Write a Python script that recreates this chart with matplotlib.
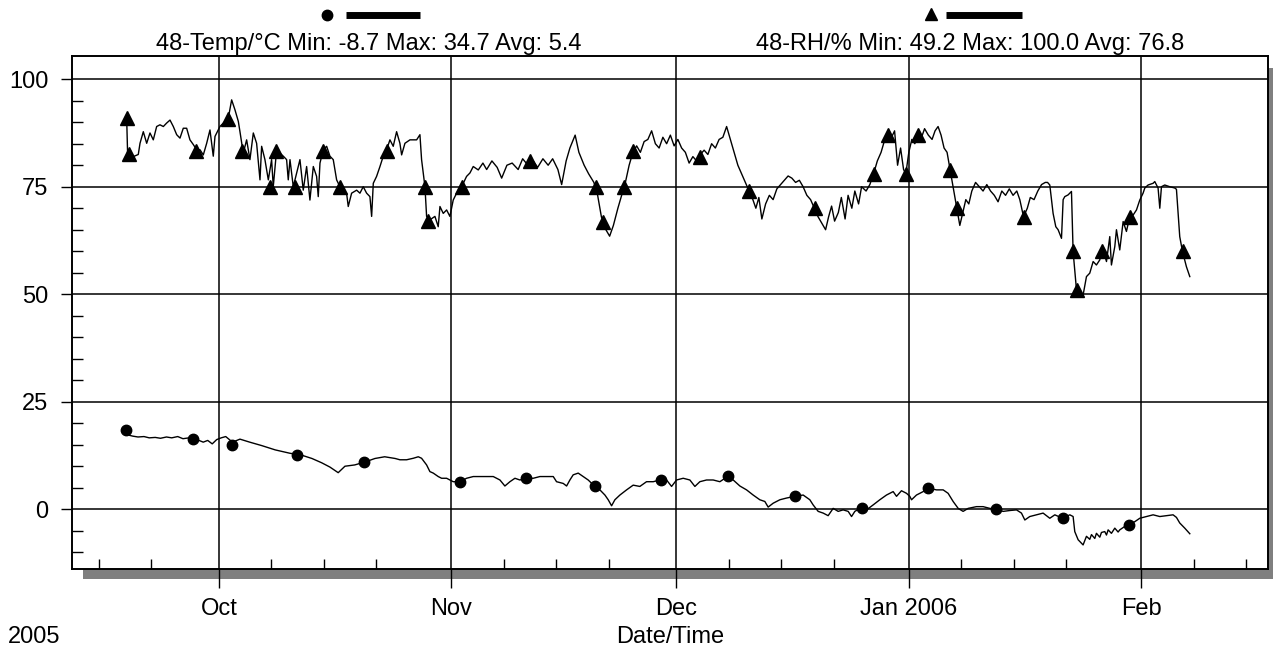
import matplotlib
matplotlib.use('Agg')
import matplotlib.pyplot as plt
import matplotlib.dates as mdates
from matplotlib.patches import Rectangle
from matplotlib.lines import Line2D
import numpy as np
import pandas as pd

plt.rcParams['font.family'] = ['Liberation Sans', 'DejaVu Sans']

# ---------------- data (days after 2005-10-01) ----------------
base_date = '2005-10-01'

rh_day = [-12.31, -12.18, -11.42, -10.76, -10.53, -10.09, -9.64, -9.20, -8.76, -8.31,
          -7.87, -7.42, -6.98, -6.53, -6.09, -5.64, -5.20, -4.76, -4.31, -3.87,
          -3.42, -2.98, -2.53, -2.09, -1.64, -1.20, -0.76, -0.53, -0.09, 0.13,
          0.58, 1.24, 1.69, 2.13, 2.58, 2.80, 3.24, 3.69, 4.13, 4.58,
          5.02, 5.47, 5.69, 6.13, 6.58, 7.02, 7.24, 7.69, 8.13, 8.58,
          9.02, 9.24, 9.47, 9.91, 10.80, 11.24, 11.69, 12.13, 12.58, 13.02,
          13.24, 13.47, 13.91, 14.36, 14.80, 15.24, 15.69, 16.13, 16.58, 17.02,
          17.24, 17.69, 18.36, 18.80, 19.24, 19.69, 20.13, 20.36, 20.58, 21.02,
          21.47, 21.91, 22.36, 22.80, 23.24, 23.69, 24.13, 24.36, 24.80, 25.47,
          25.91, 26.36, 26.80, 27.02, 27.47, 27.69, 28.13, 28.80, 29.24, 29.47,
          29.91, 30.36, 30.80, 31.24, 31.69, 32.36, 33.02, 33.47, 33.91, 34.58,
          35.2, 35.7, 36.4, 37.1, 37.7, 38.4, 39.1, 39.9, 40.5, 41.2,
          41.9, 42.5, 43.2, 43.9, 44.5, 45.2, 45.7, 46.3, 46.8, 47.5,
          48.0, 48.7, 49.3, 50.0, 50.5, 51.0, 51.6, 52.1, 52.6, 53.2,
          53.7, 54.2, 54.7, 55.2, 55.7, 56.2, 56.7, 57.2, 57.7, 58.2,
          58.7, 59.2, 59.7, 60.2, 60.7, 61.2, 61.7, 62.2, 62.7, 63.2,
          63.7, 64.2, 64.7, 65.2, 65.7, 66.2, 66.7, 67.2, 67.7, 68.2,
          68.7, 69.2, 69.7, 70.2, 70.7, 71.2, 71.6, 72.0, 72.4, 72.9,
          73.4, 73.9, 74.4, 74.9, 75.4, 75.9, 76.4, 76.9, 77.4, 77.9,
          78.4, 78.9, 79.4, 79.9, 80.4, 80.9, 81.3, 81.7, 82.1, 82.6,
          83.0, 83.5, 83.9, 84.4, 84.8, 85.3, 85.7, 86.3, 86.8, 87.3,
          87.8, 88.3, 88.8, 89.2, 89.7, 90.1, 90.5, 90.9, 91.3, 91.6,
          92.0, 92.4, 92.8, 93.2, 93.6, 94.1, 94.6, 95.1, 95.5, 95.9,
          96.3, 96.7, 97.1, 97.5, 98.0, 98.4, 98.8, 99.2, 99.6, 100.0,
          100.4, 100.9, 101.4, 101.9, 102.4, 102.9, 103.4, 103.9, 104.4, 104.9,
          105.4, 105.9, 106.4, 106.8, 107.3, 107.8, 108.2, 108.7, 109.2, 109.7,
          110.2, 110.5,
          110.80, 111.24, 111.60, 111.91, 112.36, 112.58, 112.80, 113.24, 113.69, 113.91,
          114.36, 115.24, 115.69, 116.13, 116.58, 117.02, 117.47, 117.69, 117.91, 118.36,
          118.80, 119.02, 119.47, 119.69, 120.13, 120.58, 121.02, 121.47, 121.91, 122.36,
          122.80, 123.24, 123.47, 123.91, 124.58, 124.80, 125.24, 125.47, 125.69, 126.13,
          126.80, 127.47, 127.69, 128.13, 128.49, 129.02, 129.47]
rh_val = [91.0, 82.4, 82.0, 82.5, 85.1, 87.8, 85.1, 87.5, 85.9, 89.0,
          89.4, 89.0, 89.8, 90.5, 89.0, 87.1, 86.3, 88.6, 88.6, 85.9,
          84.8, 83.6, 83.6, 82.4, 85.1, 88.2, 82.1, 86.7, 88.2, 89.0,
          89.8, 90.9, 95.2, 92.9, 90.2, 87.8, 82.8, 85.9, 81.3, 87.5,
          85.1, 76.6, 84.4, 81.3, 76.6, 81.3, 75.0, 83.6, 82.8, 82.1,
          81.3, 76.6, 81.3, 75.0, 81.3, 74.2, 79.7, 71.9, 79.7, 77.4,
          72.7, 80.5, 83.6, 84.4, 82.1, 81.3, 76.6, 75.0, 74.2, 73.5,
          70.4, 73.5, 74.2, 73.5, 75.0, 73.5, 72.7, 68.1, 75.8, 77.4,
          79.7, 82.1, 83.6, 85.9, 84.4, 87.8, 85.1, 82.4, 85.1, 85.9,
          85.9, 85.9, 87.1, 81.3, 75.0, 68.1, 67.3, 68.1, 65.7, 70.4,
          68.8, 69.6, 68.1, 71.9, 73.5, 75.0, 77.4, 78.2, 79.7, 78.9,
          80.5, 79.0, 81.0, 79.5, 77.0, 80.0, 80.5, 79.0, 81.5, 80.0,
          81.0, 79.5, 81.5, 80.0, 81.5, 79.0, 75.5, 81.0, 84.0, 87.0,
          83.0, 80.0, 78.0, 76.0, 73.0, 68.0, 65.0, 63.5, 66.0, 70.0,
          73.0, 76.0, 80.0, 83.0, 84.5, 83.0, 85.5, 86.0, 88.0, 85.0,
          84.0, 86.5, 85.0, 87.0, 84.5, 86.0, 84.0, 83.0, 80.5, 82.0,
          81.0, 82.5, 83.5, 82.5, 85.0, 84.0, 86.0, 86.5, 89.0, 86.0,
          83.0, 80.0, 78.0, 76.0, 74.0, 72.0, 70.0, 72.5, 67.5, 71.0,
          73.0, 72.0, 74.5, 75.5, 76.5, 77.5, 77.0, 76.0, 76.5, 75.0,
          73.0, 72.0, 70.0, 68.0, 66.5, 65.0, 68.0, 70.5, 67.0, 69.0,
          72.5, 67.5, 73.0, 70.0, 74.0, 71.0, 75.0, 74.0, 75.5, 78.0,
          81.0, 83.0, 86.0, 87.5, 86.5, 88.0, 80.0, 84.0, 79.0, 78.0,
          83.0, 86.0, 85.0, 87.0, 86.0, 88.5, 87.0, 86.0, 88.0, 89.0,
          87.0, 84.0, 83.0, 79.0, 74.0, 70.0, 66.0, 69.0, 72.0, 71.0,
          74.0, 76.0, 75.0, 74.0, 75.5, 74.0, 73.0, 71.5, 74.0, 73.0,
          74.5, 73.0, 74.0, 72.0, 68.0, 70.0, 72.5, 72.0, 74.0, 75.5,
          76.0, 76.0,
          75.4, 68.8, 65.7, 65.0, 63.0, 72.0, 72.7, 73.1, 73.9, 59.9,
          51.0, 49.8, 54.1, 54.9, 57.6, 56.8, 58.0, 60.3, 60.3, 57.6,
          63.4, 56.8, 61.1, 65.0, 60.3, 66.9, 64.6, 68.1, 68.4, 69.6,
          71.9, 73.5, 74.7, 75.4, 75.8, 76.2, 74.7, 70.0, 75.0, 75.4,
          75.0, 74.7, 74.4, 63.4, 60.0, 56.4, 54.1]

temp_day = [-12.4, -12.2, -11.5, -10.8, -10.0, -9.3, -8.5, -7.8, -7.0, -6.3,
            -5.5, -4.8, -4.0, -3.5, -2.8, -2.1, -1.5, -0.9, -0.3, 0.3,
            0.9, 1.8, 2.8, 4.1, 5.7, 7.5, 9.5, 10.8, 12.4, 13.7,
            14.8, 15.9, 16.8, 18.1, 19.5, 20.8, 22.1, 23.5,
            24.13, 25.02, 25.91, 26.58, 27.02, 27.69, 28.13, 28.58, 29.24, 29.69,
            30.36, 31.24, 32.13, 33.02, 33.91, 34.80, 35.69, 36.58, 37.47, 38.13,
            38.80, 39.47, 40.13, 41.02, 41.91, 42.80, 43.69, 44.58, 45.02, 45.91,
            46.36, 46.80, 47.24, 47.91, 48.58, 49.24, 50.13, 50.80, 51.47, 51.91,
            52.36, 52.80, 53.47, 54.36, 55.24, 56.13, 57.02, 57.91, 59.02, 59.69,
            60.36, 61.02, 61.91, 62.80, 63.47, 64.13, 65.02, 65.91, 66.80, 67.91,
            68.58, 69.47, 70.36, 71.24, 72.13, 72.80, 73.24, 73.91, 74.80, 75.69,
            76.80, 77.91, 78.80, 79.24, 79.91, 80.58, 81.24, 81.91, 82.58, 83.24,
            83.91, 84.36, 84.80, 85.69, 86.36, 87.24, 88.13, 89.02, 89.91, 90.36,
            91.02, 91.69, 92.13, 92.36, 93.02, 93.91, 94.58, 95.69, 96.58, 97.24,
            97.91, 98.58, 99.24, 99.91, 101.02, 101.91, 102.80, 103.60, 104.58, 105.47,
            106.36, 107.02, 107.47, 108.13, 109.02, 109.91, 110.80, 111.47, 112.49, 113.47,
            113.91, 114.13, 114.58, 115.24, 115.69, 116.13, 116.36, 116.80, 117.02, 117.47,
            117.69, 118.13, 118.36, 118.58, 119.02, 119.47, 119.91, 120.13, 120.80, 121.38,
            122.13, 122.80, 123.69, 124.58, 125.47, 126.36, 127.24, 127.69, 128.13, 128.80,
            129.47]
temp_val = [18.5, 17.3, 17.0, 16.8, 16.9, 16.6, 16.7, 16.5, 16.8, 16.6,
            16.9, 16.4, 16.6, 16.3, 16.1, 15.6, 16.0, 15.2, 16.2, 16.6,
            16.9, 15.6, 16.3, 15.6, 14.8, 13.8, 13.0, 12.7, 11.8, 10.8,
            9.8, 8.5, 10.0, 10.3, 11.0, 11.8, 12.2, 11.8,
            11.5, 11.5, 11.85, 12.2, 11.85, 10.3, 8.75, 8.4, 7.6, 7.2,
            7.2, 6.4, 6.4, 7.2, 7.6, 7.6, 7.6, 7.6, 6.8, 5.4,
            6.4, 7.2, 6.8, 7.2, 7.2, 7.6, 7.6, 7.6, 6.4, 6.0,
            5.4, 6.8, 8.0, 8.4, 7.6, 6.8, 5.3, 4.5, 3.3, 2.2,
            0.8, 2.2, 3.3, 4.5, 5.6, 5.3, 6.4, 6.4, 6.9, 6.8,
            5.3, 6.8, 7.2, 6.8, 5.3, 6.4, 6.8, 6.8, 6.4, 7.7,
            6.8, 5.4, 4.5, 3.3, 2.2, 1.8, 0.5, 1.4, 2.2, 2.6,
            3.0, 3.3, 2.2, 1.0, -0.5, -0.9, -1.5, 0.2, -0.5, -0.15,
            -0.5, -1.7, -0.5, 0.4, -0.15, 1.0, 2.2, 3.3, 4.1, 3.0,
            4.3, 3.7, 3.0, 2.2, 3.3, 4.1, 4.9, 4.5, 4.5, 3.7,
            1.8, 0.2, -0.5, 0.2, 0.6, 0.6, 0.2, 0.0, -0.5, -0.3,
            -0.15, -0.9, -2.5, -1.7, -1.3, -0.9, -2.1, -1.3, -2.1, -1.3,
            -1.7, -5.2, -7.1, -8.3, -6.3, -7.0, -5.9, -6.8, -5.6, -6.5,
            -5.4, -5.2, -6.0, -4.8, -5.6, -4.4, -5.3, -4.8, -4.0, -3.6,
            -2.9, -2.1, -1.7, -1.3, -1.7, -1.5, -1.3, -1.9, -3.2, -4.4,
            -5.7]

# marker positions
rh_mark_day = [-12.31, -11.96, -3.07, 1.24, 3.02, 6.8, 7.6, 10.1, 13.9, 16.1,
               22.4, 27.5, 27.9, 32.4, 41.5, 50.3, 51.2, 54.0, 55.2, 64.1,
               70.7, 79.5, 87.3, 89.2, 91.6, 93.2, 97.5, 98.4, 107.3, 113.9,
               114.4, 117.7, 121.5, 128.5]
rh_mark_val = [91.0, 82.5, 83.3, 90.7, 83.3, 75.0, 83.3, 75.0, 83.3, 75.0,
               83.3, 75.0, 67.0, 75.0, 81.0, 75.0, 66.7, 75.0, 83.3, 82.0,
               74.0, 70.0, 78.0, 87.0, 78.0, 87.0, 79.0, 70.0, 68.0, 60.0,
               51.0, 60.0, 68.0, 60.0]
temp_mark_day = [-12.4, -3.5, 1.8, 10.4, 19.3, 32.1, 41.0, 50.1, 59.0, 67.9,
                 76.8, 85.7, 94.6, 103.6, 112.5, 121.4]
temp_mark_val = [18.5, 16.3, 15.0, 12.7, 11.0, 6.4, 7.2, 5.3, 6.9, 7.7,
                 3.0, 0.4, 4.9, 0.0, -2.1, -3.6]

month_labels = ['Oct', 'Nov', 'Dec', 'Jan 2006', 'Feb']
month_starts = ['2005-10-01', '2005-11-01', '2005-12-01', '2006-01-01', '2006-02-01']
temp_title = '48-Temp/°C Min: -8.7 Max: 34.7 Avg: 5.4'
rh_title = '48-RH/% Min: 49.2 Max: 100.0 Avg: 76.8'

# ---------------- plotting ----------------
W, H = 1273, 649
base = pd.Timestamp(base_date)


def to_dates(days):
    return base + pd.to_timedelta(np.asarray(days, dtype=float), unit='D')


fig = plt.figure(figsize=(W / 100, H / 100), dpi=100)
fig.patch.set_facecolor('white')

L, R, T, B = 72, 1268, 56, 569
ax = fig.add_axes([L / W, 1 - B / H, (R - L) / W, (B - T) / H])
ax.set_zorder(2)
ax.set_facecolor('white')

# drop shadow
shadow = Rectangle(((L + 11) / W, 1 - (B + 10) / H), (R - L) / W, (B - T - 2) / H,
                   transform=fig.transFigure, facecolor='#7f7f7f', edgecolor='none', zorder=1)
fig.patches.append(shadow)

ax.plot(to_dates(rh_day), rh_val, color='black', lw=1.0, zorder=3)
ax.plot(to_dates(temp_day), temp_val, color='black', lw=1.0, zorder=3)
ax.plot(to_dates(rh_mark_day), rh_mark_val, ls='none', marker='^', ms=9.5,
        color='black', zorder=4)
ax.plot(to_dates(temp_mark_day), temp_mark_val, ls='none', marker='o', ms=7.5,
        color='black', zorder=4)

ax.set_xlim(base - pd.Timedelta(days=19.6), base + pd.Timedelta(days=139.9))
ax.set_ylim(-13.9, 105.4)

# y ticks
ax.set_yticks([0, 25, 50, 75, 100])
ax.set_yticks([v for v in range(-10, 105, 5) if v % 25 != 0], minor=True)
ax.tick_params(axis='y', which='major', direction='out', length=8, width=1.0,
               labelsize=17, pad=9, color='black')
ax.tick_params(axis='y', which='minor', direction='in', length=8, width=1.0, color='black')

# x ticks
ax.set_xticks(pd.to_datetime(month_starts))
ax.set_xticklabels(month_labels)
ax.xaxis.set_minor_locator(mdates.DayLocator(bymonthday=[8, 15, 22]))
ax.tick_params(axis='x', which='major', direction='out', length=14, width=1.0,
               labelsize=17, pad=7, color='black')
ax.tick_params(axis='x', which='minor', direction='in', length=7.5, width=1.0, color='black')

ax.grid(True, which='major', color='black', lw=1.1)
ax.set_axisbelow(True)
for s in ax.spines.values():
    s.set_linewidth(1.4)
    s.set_color('black')

# header "legend"
fig.text(369 / W, 1 - 44 / H, temp_title, ha='center', va='center', fontsize=17)
fig.text(970 / W, 1 - 44 / H, rh_title, ha='center', va='center', fontsize=17)
fig.add_artist(Line2D([327 / W], [1 - 15 / H], marker='o', ms=7.5, color='black',
                      transform=fig.transFigure))
fig.add_artist(Line2D([346 / W, 420 / W], [1 - 15 / H, 1 - 15 / H], lw=5, color='black',
                      solid_capstyle='butt', transform=fig.transFigure))
fig.add_artist(Line2D([931 / W], [1 - 14 / H], marker='^', ms=9, color='black',
                      transform=fig.transFigure))
fig.add_artist(Line2D([946 / W, 1022 / W], [1 - 15 / H, 1 - 15 / H], lw=5, color='black',
                      solid_capstyle='butt', transform=fig.transFigure))

fig.text(670 / W, 1 - 637 / H, 'Date/Time', ha='center', va='center', fontsize=17)
fig.text(8 / W, 1 - 637 / H, '2005', ha='left', va='center', fontsize=17)

fig.savefig('out.png', dpi=100)
